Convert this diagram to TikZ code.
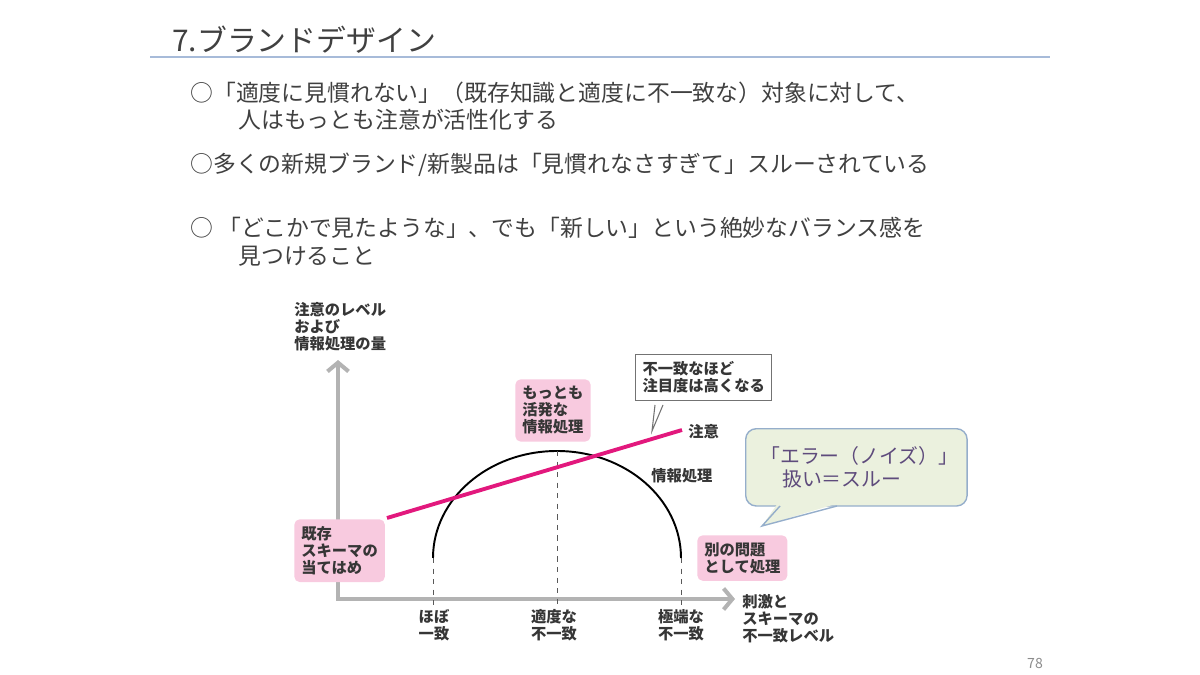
\documentclass[tikz,border=0pt]{standalone}
\usepackage{fontspec}
\setmainfont{Noto Sans CJK JP}
\usetikzlibrary{positioning,arrows.meta}

\definecolor{bodygray}{HTML}{404040}
\definecolor{labelgray}{HTML}{363636}
\definecolor{rulegray}{HTML}{A7BBD9}
\definecolor{axisgray}{HTML}{B3B3B3}
\definecolor{attnpink}{HTML}{E2187D}
\definecolor{pinkfill}{HTML}{F8CADF}
\definecolor{notefill}{HTML}{EBF1DE}
\definecolor{noteline}{HTML}{95AECB}
\definecolor{notetext}{HTML}{5E4B7C}

\begin{document}
\begin{tikzpicture}[x=0.02cm, y=-0.02cm,
    heading/.style={anchor=west, text=bodygray, font=\fontsize{17}{20}\selectfont, inner sep=0pt},
    bullet/.style={anchor=west, text=bodygray, font=\fontsize{13}{15}\selectfont, inner sep=0pt},
    lbl/.style={text=labelgray, font=\fontsize{8.7}{9.7}\selectfont\bfseries, align=left, inner sep=0pt},
    pinkbox/.style={lbl, fill=pinkfill, rounded corners=3pt, inner sep=4pt, anchor=north west},
    axis/.style={axisgray, line width=2.3pt, line join=miter,
      {Straight Barb[length=5pt,width=12pt]}-{Straight Barb[length=5pt,width=12pt]}},
    guide/.style={black!65, dashed, line width=0.5pt}
  ]
  \useasboundingbox (0,0) rectangle (1200,675);

  % heading and rule
  \node[heading] (title) at (172,40) {7.ブランドデザイン};
  \coordinate (ruleL) at (150,57);
  \coordinate (ruleR) at (1050,57);
  \draw[rulegray, line width=1.2pt] (ruleL) -- (ruleR);

  % bullets
  \node[bullet] (b1) at (190,93) {○「適度に見慣れない」（既存知識と適度に不一致な）対象に対して、};
  \node[bullet] (b1x) at (238,120) {人はもっとも注意が活性化する};
  \node[bullet] (b2) at (190,165) {○多くの新規ブランド/新製品は「見慣れなさすぎて」スルーされている};
  \node[bullet] (b3) at (190,228) {○ 「どこかで見たような」、でも「新しい」という絶妙なバランス感を};
  \node[bullet] (b3x) at (238,256) {見つけること};

  % axes
  \coordinate (origin) at (338,599);
  \coordinate (ytip) at (338,360);
  \coordinate (xtip) at (735,599);
  \draw[axis] (ytip) -- (origin) -- (xtip);
  \node[lbl, anchor=north west] (ylabel) at (294,302) {注意のレベル\\および\\情報処理の量};
  \node[lbl, anchor=north west] (xlabel) at (742,594) {刺激と\\スキーマの\\不一致レベル};

  % information processing curve
  \coordinate (near) at (433,558);
  \coordinate (mid) at (557,451);
  \coordinate (far) at (681,558);
  \draw[line width=1.1pt] (near) arc[start angle=180, end angle=360, x radius=124, y radius=107];
  \draw[guide] (near) -- ([yshift=-4pt]near |- origin);
  \draw[guide] (mid) -- ([yshift=-4pt]mid |- origin);
  \draw[guide] (far) -- ([yshift=-4pt]far |- origin);

  \node[lbl, align=center, anchor=north] (lowlbl) at (434,609) {ほぼ\\一致};
  \node[lbl, align=center, anchor=north] (midlbl) at (554,609) {適度な\\不一致};
  \node[lbl, align=center, anchor=north] (highlbl) at (681,609) {極端な\\不一致};

  % pink boxes
  \node[pinkbox] (schema) at (294,519) {既存\\スキーマの\\当てはめ};
  \node[pinkbox] (active) at (515,379) {もっとも\\活発な\\情報処理};
  \node[pinkbox] (other) at (697,535) {別の問題\\として処理};

  % attention line
  \coordinate (attnstart) at (387,518);
  \coordinate (attnend) at (682,430);
  \draw[attnpink, line width=2.2pt] (attnstart) -- (attnend);
  \node[lbl, anchor=west] (attn) at (688,432) {注意};
  \node[lbl, anchor=west] (info) at (651,476) {情報処理};

  % note with tail
  \node[lbl, draw=black!55, fill=white, line width=0.6pt, inner sep=4pt, anchor=north west]
    (note) at (635,354) {不一致なほど\\注目度は高くなる};
  \fill[white] (654,403) -- (652,431) -- (664,403) -- cycle;
  \draw[black!55, line width=0.6pt] (655,405) -- (652,431) -- (663,405);

  % green callout
  \node[draw=noteline, fill=notefill, line width=0.8pt, rounded corners=6pt,
    text=notetext, font=\fontsize{11.3}{13}\selectfont, align=left,
    minimum width=126pt, minimum height=44pt, inner sep=0pt,
    anchor=north west] (errnote) at (745,428)
    {\hspace*{0.3em}「エラー（ノイズ）」\\\hspace*{1.4em}扱い＝スルー};
  \fill[notefill] (778,503) -- (762,526) -- (839,503) -- cycle;
  \draw[noteline, line width=0.8pt] (780,506) -- (762,526) -- (837,506);

  \node[text=black!45, font=\fontsize{8}{9}\selectfont] (pagenum) at (1035,663) {78};
\end{tikzpicture}
\end{document}
